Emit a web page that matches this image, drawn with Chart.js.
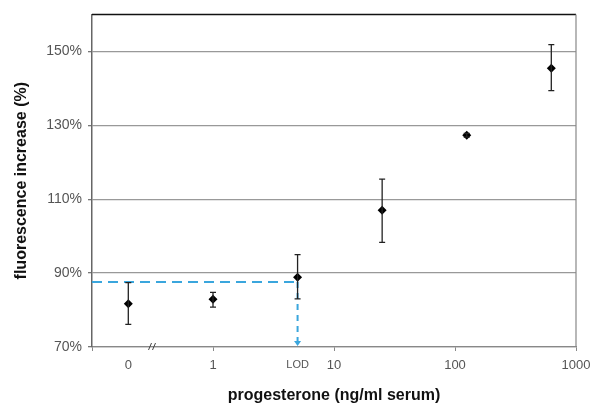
<!DOCTYPE html>
<html>
<head>
<meta charset="utf-8">
<script src="https://cdn.jsdelivr.net/npm/chart.js@4.4.1/dist/chart.umd.min.js"></script>
<style>
    html, body { margin: 0; padding: 0; background: #fff; }
    #wrap { width: 592px; height: 405px; }
</style>
</head>
<body>
<div id="wrap"><canvas id="chart" width="592" height="405"></canvas></div>
<script>
// concentrations (ng/ml serum), 0 sits left of the axis break
const concentrations = [0, 1, 5, 25, 125, 625];
const fluorescence = [81.7, 82.9, 88.9, 107.0, 127.3, 145.4];
const errLow = [76.1, 80.8, 83.0, 98.3, 126.8, 139.4];
const errHigh = [87.4, 84.8, 95.0, 115.4, 127.8, 151.8];

const xTickLabels = ['', '0', '1', 'LOD', '10', '100', '1000'];
const xTickValues = [null, 0, 1, 5, 10, 100, 1000];
const yTicks = [70, 90, 110, 130, 150];

const lodValue = 5;
const lodSignal = 87.6;

const ZERO_POS = -0.7;
const BREAK_POS = -0.5;

function toAxis(c) {
    if (c === null) return -1;
    return c === 0 ? ZERO_POS : Math.log10(c);
}

const points = concentrations.map((c, i) => ({ x: toAxis(c), y: fluorescence[i] }));
const xTickPos = xTickValues.map(toAxis);
const noMark = ['0', 'LOD'];

const overlay = {
    id: 'overlay',
    afterDatasetsDraw(chart) {
        const ctx = chart.ctx;
        const xs = chart.scales.x;
        const ys = chart.scales.y;
        const area = chart.chartArea;

        // frame: black top, grey right
        ctx.save();
        ctx.strokeStyle = '#111';
        ctx.lineWidth = 1.5;
        ctx.beginPath();
        ctx.moveTo(area.left, area.top);
        ctx.lineTo(area.right, area.top);
        ctx.stroke();
        ctx.strokeStyle = '#888';
        ctx.lineWidth = 1.2;
        ctx.beginPath();
        ctx.moveTo(area.right, area.top);
        ctx.lineTo(area.right, area.bottom);
        ctx.stroke();

        // LOD guide
        const lx = xs.getPixelForValue(Math.log10(lodValue));
        const ly = ys.getPixelForValue(lodSignal);
        const by = ys.getPixelForValue(ys.min);
        ctx.strokeStyle = '#3aa6dd';
        ctx.lineWidth = 2;
        ctx.setLineDash([10, 6]);
        ctx.beginPath();
        ctx.moveTo(area.left, ly);
        ctx.lineTo(lx, ly);
        ctx.stroke();
        ctx.setLineDash([6, 5]);
        ctx.beginPath();
        ctx.moveTo(lx, ly);
        ctx.lineTo(lx, by - 5);
        ctx.stroke();
        ctx.setLineDash([]);
        ctx.fillStyle = '#3aa6dd';
        ctx.beginPath();
        ctx.moveTo(lx - 3.5, by - 6);
        ctx.lineTo(lx + 3.5, by - 6);
        ctx.lineTo(lx, by - 1);
        ctx.closePath();
        ctx.fill();

        // error bars
        ctx.strokeStyle = '#222';
        ctx.lineWidth = 1.3;
        points.forEach((p, i) => {
            const px = xs.getPixelForValue(p.x);
            const y1 = ys.getPixelForValue(errLow[i]);
            const y2 = ys.getPixelForValue(errHigh[i]);
            ctx.beginPath();
            ctx.moveTo(px, y1);
            ctx.lineTo(px, y2);
            ctx.moveTo(px - 3, y1);
            ctx.lineTo(px + 3, y1);
            ctx.moveTo(px - 3, y2);
            ctx.lineTo(px + 3, y2);
            ctx.stroke();
        });

        // axis break
        const bx = xs.getPixelForValue(BREAK_POS);
        ctx.strokeStyle = '#444';
        ctx.lineWidth = 1;
        ctx.beginPath();
        ctx.moveTo(bx - 4, by + 3);
        ctx.lineTo(bx - 1, by - 4);
        ctx.moveTo(bx, by + 3);
        ctx.lineTo(bx + 3, by - 4);
        ctx.stroke();
        ctx.restore();
    }
};

new Chart(document.getElementById('chart'), {
    type: 'scatter',
    data: {
        datasets: [{
            data: points,
            pointStyle: 'rectRot',
            pointRadius: 4.5,
            backgroundColor: '#000',
            borderColor: '#000',
            borderWidth: 0
        }]
    },
    options: {
        responsive: false,
        animation: false,
        layout: { padding: { top: 13, right: 16, left: 0, bottom: 0 } },
        plugins: { legend: { display: false }, tooltip: { enabled: false } },
        scales: {
            x: {
                type: 'linear',
                min: -1,
                max: 3,
                afterBuildTicks(scale) {
                    scale.ticks = xTickPos.map(v => ({ value: v }));
                },
                afterFit(scale) {
                    scale.height = 58;
                    scale.paddingRight = 0;
                    scale.paddingLeft = 0;
                },
                ticks: {
                    autoSkip: false,
                    maxRotation: 0,
                    padding: 7,
                    color: '#555',
                    font: c => ({ family: 'Liberation Sans', size: xTickLabels[c.index] === 'LOD' ? 11 : 13 }),
                    callback: (v, i) => xTickLabels[i]
                },
                grid: {
                    drawOnChartArea: false,
                    tickLength: 4,
                    tickColor: c => noMark.includes(xTickLabels[c.index]) ? 'rgba(0,0,0,0)' : '#888'
                },
                border: { color: '#888', width: 1.3 },
                title: {
                    display: true,
                    text: 'progesterone (ng/ml serum)',
                    color: '#111',
                    font: { family: 'Liberation Sans', size: 16, weight: 'bold' },
                    padding: { top: 0, bottom: 0 }
                }
            },
            y: {
                min: 70,
                max: 160,
                afterBuildTicks(scale) {
                    scale.ticks = yTicks.map(v => ({ value: v }));
                },
                afterFit(scale) { scale.width = 92; },
                ticks: {
                    padding: 6,
                    color: '#555',
                    font: { family: 'Liberation Sans', size: 14 },
                    callback: v => v + '%'
                },
                grid: {
                    color: '#999',
                    lineWidth: 1.3,
                    tickLength: 4,
                    tickColor: '#777'
                },
                border: { color: '#666', width: 1.5 },
                title: {
                    display: true,
                    text: 'fluorescence increase (%)',
                    color: '#111',
                    font: { family: 'Liberation Sans', size: 16, weight: 'bold' },
                    padding: { top: 12, bottom: 0 }
                }
            }
        }
    },
    plugins: [overlay]
});
</script>
</body>
</html>
